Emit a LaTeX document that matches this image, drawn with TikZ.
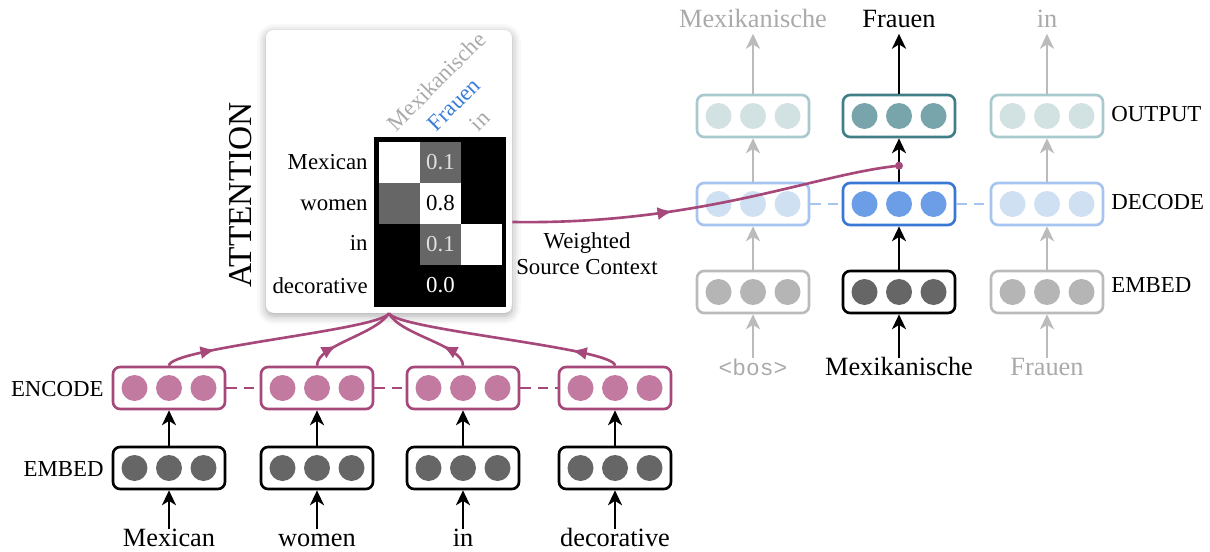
\documentclass[tikz,border=0pt]{standalone}
\usepackage{fontspec}
\setmainfont{Liberation Serif}
\setmonofont{Liberation Mono}
\usetikzlibrary{arrows.meta,decorations.markings,shadows.blur}
\definecolor{encl}{RGB}{166,72,122}
\definecolor{encf}{RGB}{194,122,160}
\definecolor{embf}{RGB}{102,102,102}
\definecolor{lgray}{RGB}{187,187,187}
\definecolor{lgf}{RGB}{181,181,181}
\definecolor{gtext}{RGB}{170,170,170}
\definecolor{decAl}{RGB}{166,196,240}
\definecolor{decAf}{RGB}{207,224,243}
\definecolor{decBl}{RGB}{58,120,214}
\definecolor{decBf}{RGB}{108,158,232}
\definecolor{outAl}{RGB}{168,201,205}
\definecolor{outAf}{RGB}{210,226,227}
\definecolor{outBl}{RGB}{64,126,136}
\definecolor{outBf}{RGB}{120,165,172}
\definecolor{fblue}{RGB}{58,125,220}
\definecolor{cgray}{RGB}{102,102,102}
\definecolor{ctext}{RGB}{225,225,225}
\newcommand{\vecbox}[5]{%
  \node[vbx, draw=#4] (#1) at (#2,#3) {};
  \foreach \dx in {-34.5,0,34.5}{\fill[#5] (#2+\dx,#3) circle[radius=0.26cm];}
}
\tikzset{
  vbx/.style={rectangle, rounded corners=4pt, minimum width=2.24cm, minimum height=0.84cm, line width=1.5pt, inner sep=0pt, fill=white},
  word/.style={font=\fontsize{15}{18}\selectfont, inner sep=2.5pt, text height=1.5ex, text depth=0.25ex},
  lab/.style={font=\fontsize{13}{15}\selectfont, inner sep=0pt, text height=1.5ex, text depth=0.25ex},
  arr/.style={line width=1.4pt, -{Stealth[length=8.5pt,width=8pt,inset=2.5pt]}},
  garr/.style={arr, draw=lgray},
  encline/.style={draw=encl, line width=1.5pt},
  midarr/.style={postaction={decorate,decoration={markings,mark=at position #1 with {\arrow{Latex[length=8.5pt,width=7.5pt]}}}}},
  dsh/.style={line width=1.7pt, dash pattern=on 6pt off 4pt},
  cell/.style={minimum size=0.82cm, inner sep=0pt, font=\fontsize{13}{15}\selectfont},
  card/.style={rectangle, rounded corners=4.5pt, fill=white, minimum width=4.92cm, minimum height=5.66cm,
     blur shadow={shadow xshift=0pt, shadow yshift=-1.5pt, shadow blur radius=5pt, shadow opacity=35}},
}
\begin{document}
\begin{tikzpicture}[x=0.02cm,y=-0.02cm]
\useasboundingbox (0,0) rectangle (1210,551);

% ---------- attention card ----------
\node[card] (card) at (389,171.5) {};
\node[rotate=90, font=\fontsize{19}{22}\selectfont, inner sep=0pt] (att) at (241,195) {ATTENTION};
\node[fill=black, minimum width=2.64cm, minimum height=3.4cm, inner sep=0pt] (mat) at (440,222) {};
\node[cell, fill=white] (c11) at (399.5,162.5) {};
\node[cell, fill=cgray, text=ctext] (c12) at (440.5,162.5) {0.1};
\node[cell, fill=cgray] (c21) at (399.5,203.5) {};
\node[cell, fill=white] (c22) at (440.5,203.5) {0.8};
\node[cell, fill=cgray, text=ctext] (c32) at (440.5,244.5) {0.1};
\node[cell, fill=white] (c33) at (481.5,244.5) {};
\node[cell, text=white] (c42) at (440.5,285.5) {0.0};
\node[lab, anchor=east] (r1) at (368,164.5) {Mexican};
\node[lab, anchor=east] (r2) at (368,205) {women};
\node[lab, anchor=east] (r3) at (368,245) {in};
\node[lab, anchor=east] (r4) at (368,288) {decorative};
\node[lab, rotate=45, anchor=south west, text=gtext] (h1) at (398,134) {Mexikanische};
\node[lab, rotate=45, anchor=south west, text=fblue] (h2) at (438,134) {Frauen};
\node[lab, rotate=45, anchor=south west, text=gtext] (h3) at (480,134) {in};

% ---------- encoder ----------
\vecbox{e1}{169}{388}{encl}{encf}
\vecbox{e2}{317}{388}{encl}{encf}
\vecbox{e3}{463}{388}{encl}{encf}
\vecbox{e4}{615}{388}{encl}{encf}
\vecbox{m1}{169}{468}{black}{embf}
\vecbox{m2}{317}{468}{black}{embf}
\vecbox{m3}{463}{468}{black}{embf}
\vecbox{m4}{615}{468}{black}{embf}
\draw[encl, dsh] (e1.east) -- (e2.west);
\draw[encl, dsh] (e2.east) -- (e3.west);
\draw[encl, dsh] (e3.east) -- (e4.west);
\node[lab, anchor=east] (encl) at (104,391) {ENCODE};
\node[lab, anchor=east] (embl) at (104,471) {EMBED};
\node[word] (w1) at (169,541) {Mexican};
\node[word] (w2) at (317,541) {women};
\node[word] (w3) at (463,541) {in};
\node[word] (w4) at (615,541) {decorative};
\foreach \i in {1,2,3,4}{
  \draw[arr] (w\i.north) -- (m\i.south);
  \draw[arr] (m\i.north) -- (e\i.south);
}
\draw[encline, midarr=0.22] (e1.north) .. controls (169,348) and (380,330) .. (card.south);
\draw[encline, midarr=0.32] (e2.north) .. controls (317,345) and (375,335) .. (card.south);
\draw[encline, midarr=0.32] (e3.north) .. controls (463,345) and (400,335) .. (card.south);
\draw[encline, midarr=0.2] (e4.north) .. controls (615,348) and (398,330) .. (card.south);

% ---------- decoder ----------
\vecbox{oA}{753}{116}{outAl}{outAf}
\vecbox{oB}{899}{116}{outBl}{outBf}
\vecbox{oC}{1047}{116}{outAl}{outAf}
\vecbox{dA}{753}{204}{decAl}{decAf}
\vecbox{dB}{899}{204}{decBl}{decBf}
\vecbox{dC}{1047}{204}{decAl}{decAf}
\vecbox{mA}{753}{292}{lgray}{lgf}
\vecbox{mB}{899}{292}{black}{embf}
\vecbox{mC}{1047}{292}{lgray}{lgf}
\draw[decAl, dsh] (dA.east) -- (dB.west);
\draw[decAl, dsh] (dB.east) -- (dC.west);
\node[lab, anchor=west] (outl) at (1111,116) {OUTPUT};
\node[lab, anchor=west] (decl) at (1111,204) {DECODE};
\node[lab, anchor=west] (embr) at (1111,287) {EMBED};
\node[word, text=gtext] (tA) at (753,22) {Mexikanische};
\node[word] (tB) at (899,22) {Frauen};
\node[word, text=gtext] (tC) at (1047,22) {in};
\node[word, font=\ttfamily\fontsize{13}{15}\selectfont, text=gtext] (bA) at (753,370) {<bos>};
\node[word] (bB) at (899,370) {Mexikanische};
\node[word, text=gtext] (bC) at (1047,370) {Frauen};
\draw[garr] (bA.north) -- (mA.south);
\draw[garr] (mA.north) -- (dA.south);
\draw[garr] (dA.north) -- (oA.south);
\draw[garr] (oA.north) -- (tA.south);
\draw[garr] (bC.north) -- (mC.south);
\draw[garr] (mC.north) -- (dC.south);
\draw[garr] (dC.north) -- (oC.south);
\draw[garr] (oC.north) -- (tC.south);
\draw[arr] (bB.north) -- (mB.south);
\draw[arr] (mB.north) -- (dB.south);
\draw[arr] (dB.north) -- (oB.south);
\draw[arr] (oB.north) -- (tB.south);

% ---------- context connector ----------
\coordinate (ctx) at ([yshift=-1.01cm]card.east);
\coordinate (dot) at ([yshift=0.32cm]dB.north);
\draw[encline, midarr=0.41] (ctx) .. controls (700,225) and (815,174) .. (dot);
\fill[encl] (dot) circle[radius=0.08cm];
\node[lab, align=center, text height=, text depth=] (wsc) at (587,254) {Weighted\\Source Context};
\end{tikzpicture}
\end{document}
